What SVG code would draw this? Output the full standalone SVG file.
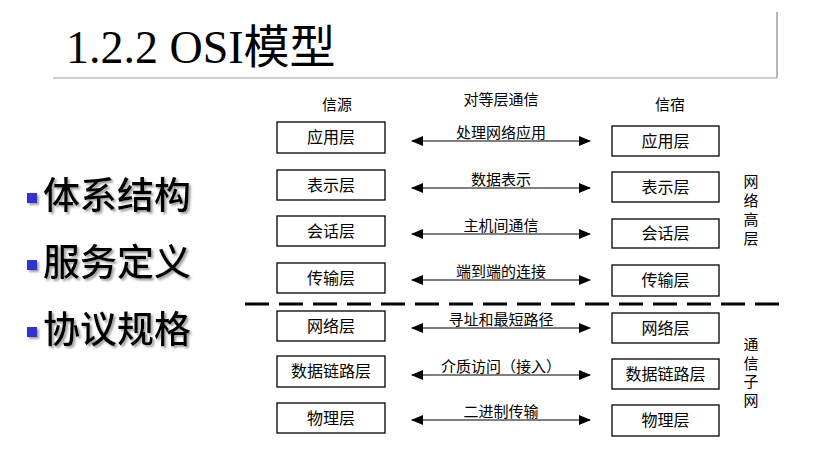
<svg xmlns="http://www.w3.org/2000/svg" width="820" height="466" viewBox="0 0 820 466">
<defs>
<style>
.cjk{font-family:"Liberation Sans","Noto Sans CJK SC",sans-serif;fill:#000}
.box{fill:#fff;stroke:#000;stroke-width:1.3}
.bt{font-size:16px;text-anchor:middle}
.lbl{font-size:15px;text-anchor:middle}
.arr{stroke:#000;stroke-width:1.2;fill:none;marker-start:url(#ah);marker-end:url(#ah)}
.big{font-size:37px;font-weight:500}
.side{font-size:15px;text-anchor:middle}
</style>
<marker id="ah" viewBox="0 0 12 10" refX="11" refY="5" markerWidth="12" markerHeight="10" markerUnits="userSpaceOnUse" orient="auto-start-reverse">
<path d="M0,0 L12,5 L0,10 Z" fill="#000"/>
</marker>
<filter id="sh" x="-10%" y="-10%" width="130%" height="140%">
<feDropShadow dx="2" dy="2" stdDeviation="0.8" flood-color="#888" flood-opacity="0.8"/>
</filter>
</defs>
<rect width="820" height="466" fill="#fff"/>

<g id="title">
<text x="66" y="63" style="font-family:'Liberation Serif','Noto Sans CJK SC',serif;font-size:46px;fill:#000">1.2.2 OSI模型</text>
<line x1="53" y1="78" x2="777" y2="78" stroke="#bdbdbd" stroke-width="1.5"/>
<line x1="777" y1="12" x2="777" y2="78" stroke="#a0a0a0" stroke-width="1.5"/>
</g>

<g id="bullets" filter="url(#sh)">
<rect x="27" y="193" width="10" height="10" fill="#3333cc"/>
<text class="cjk big" x="43" y="209">体系结构</text>
<rect x="27" y="260" width="10" height="10" fill="#3333cc"/>
<text class="cjk big" x="43" y="276">服务定义</text>
<rect x="27" y="327" width="10" height="10" fill="#3333cc"/>
<text class="cjk big" x="43" y="343">协议规格</text>
</g>

<g id="headers">
<text class="cjk lbl" x="337" y="110">信源</text>
<text class="cjk lbl" x="501" y="105">对等层通信</text>
<text class="cjk lbl" x="670" y="110">信宿</text>
</g>

<g id="src-app"><rect class="box" x="277" y="122" width="108" height="31"/><text class="cjk bt" x="331" y="143">应用层</text></g>
<g id="src-pres"><rect class="box" x="277" y="170" width="108" height="30"/><text class="cjk bt" x="331" y="190.5">表示层</text></g>
<g id="src-sess"><rect class="box" x="277" y="216" width="108" height="30"/><text class="cjk bt" x="331" y="236.5">会话层</text></g>
<g id="src-trans"><rect class="box" x="277" y="263" width="108" height="30"/><text class="cjk bt" x="331" y="283.5">传输层</text></g>
<g id="src-net"><rect class="box" x="277" y="311" width="108" height="30"/><text class="cjk bt" x="331" y="331.5">网络层</text></g>
<g id="src-link"><rect class="box" x="277" y="356" width="108" height="31"/><text class="cjk bt" x="331" y="377">数据链路层</text></g>
<g id="src-phy"><rect class="box" x="277" y="403" width="108" height="30"/><text class="cjk bt" x="331" y="423.5">物理层</text></g>

<g id="dst-app"><rect class="box" x="612" y="126" width="107" height="30"/><text class="cjk bt" x="665.5" y="146.5">应用层</text></g>
<g id="dst-pres"><rect class="box" x="612" y="172" width="107" height="30"/><text class="cjk bt" x="665.5" y="192.5">表示层</text></g>
<g id="dst-sess"><rect class="box" x="612" y="219" width="107" height="29"/><text class="cjk bt" x="665.5" y="239">会话层</text></g>
<g id="dst-trans"><rect class="box" x="612" y="265" width="107" height="31"/><text class="cjk bt" x="665.5" y="286">传输层</text></g>
<g id="dst-net"><rect class="box" x="612" y="313" width="107" height="30"/><text class="cjk bt" x="665.5" y="333.5">网络层</text></g>
<g id="dst-link"><rect class="box" x="612" y="359" width="107" height="30"/><text class="cjk bt" x="665.5" y="379.5">数据链路层</text></g>
<g id="dst-phy"><rect class="box" x="612" y="405" width="107" height="31"/><text class="cjk bt" x="665.5" y="426">物理层</text></g>

<g id="connectors">
<line class="arr" x1="412" y1="141" x2="590" y2="141"/>
<line class="arr" x1="412" y1="188" x2="590" y2="188"/>
<line class="arr" x1="412" y1="234" x2="590" y2="234"/>
<line class="arr" x1="412" y1="280" x2="590" y2="280"/>
<line class="arr" x1="412" y1="328" x2="590" y2="328"/>
<line class="arr" x1="412" y1="375" x2="590" y2="375"/>
<line class="arr" x1="412" y1="420" x2="590" y2="420"/>
</g>

<g id="connector-labels">
<text class="cjk lbl" x="501" y="138">处理网络应用</text>
<text class="cjk lbl" x="501" y="185">数据表示</text>
<text class="cjk lbl" x="501" y="231">主机间通信</text>
<text class="cjk lbl" x="501" y="277">端到端的连接</text>
<text class="cjk lbl" x="501" y="325">寻址和最短路径</text>
<text class="cjk lbl" x="501" y="372">介质访问（接入）</text>
<text class="cjk lbl" x="501" y="417">二进制传输</text>
</g>

<g id="divider">
<line x1="245" y1="304" x2="786" y2="304" stroke="#000" stroke-width="3" stroke-dasharray="24 10"/>
</g>

<g id="side-upper">
<text class="cjk side" x="751" y="187">网</text>
<text class="cjk side" x="751" y="206">络</text>
<text class="cjk side" x="751" y="225">高</text>
<text class="cjk side" x="751" y="244">层</text>
</g>
<g id="side-lower">
<text class="cjk side" x="751" y="350">通</text>
<text class="cjk side" x="751" y="368.5">信</text>
<text class="cjk side" x="751" y="387">子</text>
<text class="cjk side" x="751" y="405.5">网</text>
</g>
</svg>
